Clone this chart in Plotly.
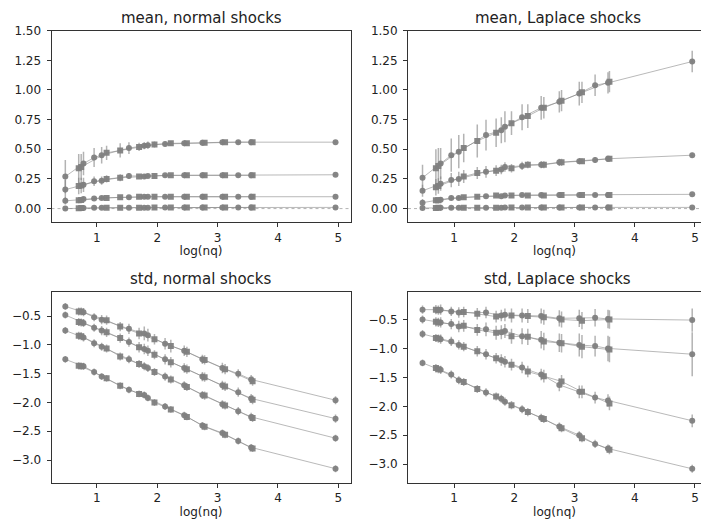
import plotly.graph_objects as go

# log(nq) grid shared by every panel; KIND tells which run each point belongs to
X = [0.477, 0.699, 0.740, 0.778, 0.954, 1.079, 1.161, 1.386, 1.531, 1.699, 1.785,
     1.845, 1.954, 2.130, 2.225, 2.447, 2.491, 2.748, 2.785, 3.079, 3.124, 3.342,
     3.556, 3.580, 4.954]
KIND = ["o", "s", "s", "o", "o", "o", "s", "s", "o", "s", "o", "o", "s", "o", "s",
        "o", "s", "o", "s", "o", "s", "o", "o", "s", "o"]

# mean, normal shocks
MEAN_NORMAL = [
    [0.27, 0.34, 0.35, 0.38, 0.43, 0.45, 0.47, 0.49, 0.51, 0.52, 0.53, 0.535, 0.54,
     0.545, 0.55, 0.55, 0.55, 0.555, 0.555, 0.56, 0.56, 0.56, 0.56, 0.56, 0.56],
    [0.16, 0.19, 0.195, 0.20, 0.23, 0.235, 0.25, 0.26, 0.275, 0.27, 0.27, 0.275, 0.275,
     0.28, 0.28, 0.28, 0.28, 0.28, 0.28, 0.28, 0.28, 0.28, 0.28, 0.28, 0.285],
    [0.065, 0.07, 0.072, 0.08, 0.085, 0.09, 0.09, 0.095, 0.095, 0.10, 0.10, 0.10, 0.10,
     0.10, 0.10, 0.10, 0.10, 0.10, 0.10, 0.10, 0.10, 0.10, 0.10, 0.10, 0.10],
    [0.0, 0.003, 0.004, 0.005, 0.006, 0.006, 0.007, 0.007, 0.008, 0.008, 0.008, 0.008,
     0.009, 0.009, 0.009, 0.009, 0.009, 0.009, 0.009, 0.01, 0.01, 0.01, 0.01, 0.01, 0.01],
]
MEAN_NORMAL_ERR = [
    [0.14, 0.12, 0.11, 0.10, 0.08, 0.07, 0.06, 0.06, 0.05, 0.035, 0.03, 0.03, 0.025,
     0.02, 0.02, 0.018, 0.018, 0.015, 0.015, 0.013, 0.013, 0.012, 0.012, 0.012, 0.01],
    [0.08, 0.07, 0.065, 0.06, 0.04, 0.035, 0.03, 0.03, 0.025, 0.02, 0.018, 0.016, 0.015,
     0.012, 0.012, 0.01, 0.01, 0.01, 0.01, 0.008, 0.008, 0.008, 0.008, 0.008, 0.006],
    [0.03, 0.025, 0.025, 0.02, 0.015, 0.013, 0.012, 0.01, 0.01, 0.009, 0.008, 0.008,
     0.007, 0.006, 0.006, 0.005, 0.005, 0.005, 0.005, 0.004, 0.004, 0.004, 0.004, 0.004, 0.003],
    [0.012, 0.01, 0.01, 0.009, 0.008, 0.007, 0.007, 0.006, 0.006, 0.005, 0.005, 0.005,
     0.004, 0.004, 0.004, 0.004, 0.004, 0.003, 0.003, 0.003, 0.003, 0.003, 0.003, 0.003, 0.002],
]

# mean, Laplace shocks
MEAN_LAPLACE = [
    [0.26, 0.34, 0.36, 0.38, 0.45, 0.48, 0.51, 0.57, 0.62, 0.64, 0.66, 0.69, 0.72,
     0.77, 0.78, 0.85, 0.85, 0.90, 0.91, 0.97, 0.98, 1.04, 1.06, 1.07, 1.24],
    [0.15, 0.18, 0.19, 0.21, 0.24, 0.25, 0.27, 0.30, 0.31, 0.32, 0.33, 0.35, 0.34,
     0.36, 0.37, 0.37, 0.37, 0.39, 0.39, 0.40, 0.40, 0.41, 0.42, 0.42, 0.45],
    [0.05, 0.07, 0.07, 0.075, 0.09, 0.09, 0.095, 0.10, 0.105, 0.11, 0.105, 0.11, 0.11,
     0.115, 0.11, 0.115, 0.11, 0.115, 0.115, 0.115, 0.115, 0.115, 0.115, 0.115, 0.12],
    [0.005, 0.005, 0.006, 0.006, 0.007, 0.007, 0.007, 0.008, 0.008, 0.008, 0.008, 0.009,
     0.009, 0.009, 0.009, 0.009, 0.009, 0.01, 0.01, 0.01, 0.01, 0.01, 0.01, 0.01, 0.01],
]
MEAN_LAPLACE_ERR = [
    [0.11, 0.16, 0.15, 0.13, 0.14, 0.14, 0.12, 0.14, 0.13, 0.12, 0.11, 0.13, 0.10,
     0.11, 0.10, 0.10, 0.09, 0.09, 0.09, 0.10, 0.09, 0.09, 0.09, 0.09, 0.09],
    [0.05, 0.07, 0.065, 0.06, 0.06, 0.06, 0.055, 0.05, 0.05, 0.045, 0.04, 0.04, 0.035,
     0.035, 0.03, 0.03, 0.03, 0.03, 0.03, 0.025, 0.025, 0.025, 0.025, 0.025, 0.02],
    [0.03, 0.025, 0.025, 0.02, 0.02, 0.018, 0.015, 0.015, 0.012, 0.012, 0.01, 0.01, 0.01,
     0.009, 0.009, 0.008, 0.008, 0.007, 0.007, 0.007, 0.007, 0.006, 0.006, 0.006, 0.005],
    [0.012, 0.01, 0.01, 0.009, 0.008, 0.007, 0.007, 0.006, 0.006, 0.005, 0.005, 0.005,
     0.004, 0.004, 0.004, 0.004, 0.004, 0.003, 0.003, 0.003, 0.003, 0.003, 0.003, 0.003, 0.002],
]

# std (log), normal shocks
STD_NORMAL = [
    [-0.33, -0.42, -0.42, -0.43, -0.52, -0.56, -0.57, -0.68, -0.72, -0.80, -0.80, -0.83,
     -0.90, -0.98, -1.02, -1.10, -1.12, -1.25, -1.26, -1.40, -1.42, -1.50, -1.60, -1.63, -1.96],
    [-0.48, -0.60, -0.61, -0.62, -0.70, -0.75, -0.78, -0.88, -0.95, -1.04, -1.07, -1.10,
     -1.17, -1.25, -1.30, -1.40, -1.42, -1.55, -1.56, -1.70, -1.72, -1.82, -1.93, -1.95, -2.28],
    [-0.75, -0.84, -0.85, -0.87, -0.97, -1.03, -1.06, -1.20, -1.25, -1.33, -1.37, -1.40,
     -1.47, -1.55, -1.60, -1.70, -1.73, -1.87, -1.88, -2.03, -2.05, -2.15, -2.25, -2.27, -2.62],
    [-1.25, -1.36, -1.37, -1.37, -1.47, -1.55, -1.58, -1.71, -1.78, -1.85, -1.87, -1.92,
     -2.00, -2.07, -2.12, -2.22, -2.25, -2.40, -2.42, -2.53, -2.56, -2.67, -2.78, -2.80, -3.15],
]
STD_NORMAL_ERR = [
    [0.06, 0.07, 0.07, 0.07, 0.07, 0.08, 0.08, 0.08, 0.09, 0.10, 0.12, 0.11, 0.09,
     0.10, 0.11, 0.09, 0.09, 0.08, 0.08, 0.09, 0.09, 0.08, 0.08, 0.08, 0.07],
    [0.06, 0.07, 0.07, 0.07, 0.07, 0.08, 0.08, 0.08, 0.08, 0.09, 0.09, 0.09, 0.08,
     0.09, 0.09, 0.08, 0.08, 0.08, 0.08, 0.08, 0.08, 0.08, 0.08, 0.08, 0.07],
    [0.06, 0.07, 0.07, 0.07, 0.07, 0.07, 0.07, 0.07, 0.07, 0.07, 0.07, 0.07, 0.07,
     0.07, 0.07, 0.07, 0.07, 0.07, 0.07, 0.07, 0.07, 0.07, 0.07, 0.07, 0.06],
    [0.06, 0.06, 0.06, 0.06, 0.06, 0.06, 0.06, 0.06, 0.06, 0.06, 0.06, 0.06, 0.06,
     0.06, 0.06, 0.06, 0.06, 0.06, 0.06, 0.06, 0.06, 0.06, 0.06, 0.06, 0.06],
]

# std (log), Laplace shocks
STD_LAPLACE = [
    [-0.33, -0.33, -0.34, -0.33, -0.36, -0.38, -0.37, -0.40, -0.38, -0.45, -0.43, -0.42,
     -0.43, -0.43, -0.44, -0.44, -0.46, -0.48, -0.50, -0.48, -0.52, -0.47, -0.49, -0.50, -0.51],
    [-0.50, -0.54, -0.55, -0.55, -0.58, -0.62, -0.61, -0.68, -0.67, -0.73, -0.72, -0.70,
     -0.79, -0.79, -0.80, -0.85, -0.88, -0.90, -0.91, -0.94, -0.97, -0.96, -1.00, -1.02, -1.10],
    [-0.75, -0.82, -0.83, -0.84, -0.88, -0.94, -0.97, -1.05, -1.10, -1.17, -1.20, -1.23,
     -1.28, -1.33, -1.40, -1.45, -1.48, -1.63, -1.57, -1.75, -1.75, -1.85, -1.90, -1.95, -2.25],
    [-1.25, -1.34, -1.36, -1.37, -1.45, -1.55, -1.58, -1.70, -1.76, -1.83, -1.87, -1.92,
     -1.98, -2.05, -2.10, -2.20, -2.22, -2.35, -2.38, -2.50, -2.55, -2.65, -2.73, -2.75, -3.08],
]
STD_LAPLACE_ERR = [
    [0.07, 0.08, 0.08, 0.09, 0.08, 0.09, 0.09, 0.10, 0.10, 0.10, 0.10, 0.11, 0.12,
     0.12, 0.12, 0.13, 0.13, 0.14, 0.14, 0.15, 0.15, 0.15, 0.16, 0.16, 0.20],
    [0.07, 0.08, 0.08, 0.09, 0.09, 0.10, 0.10, 0.10, 0.12, 0.12, 0.12, 0.12, 0.13,
     0.14, 0.14, 0.15, 0.15, 0.16, 0.16, 0.20, 0.20, 0.18, 0.22, 0.22, 0.38],
    [0.07, 0.07, 0.07, 0.08, 0.08, 0.08, 0.08, 0.09, 0.09, 0.09, 0.10, 0.10, 0.10,
     0.10, 0.10, 0.10, 0.11, 0.11, 0.11, 0.11, 0.11, 0.10, 0.11, 0.12, 0.11],
    [0.06, 0.07, 0.07, 0.07, 0.07, 0.07, 0.07, 0.07, 0.07, 0.07, 0.07, 0.07, 0.07,
     0.07, 0.07, 0.07, 0.07, 0.07, 0.07, 0.07, 0.07, 0.07, 0.07, 0.08, 0.07],
]

TITLES = ["mean, normal shocks", "mean, Laplace shocks",
          "std, normal shocks", "std, Laplace shocks"]
XLABEL = "log(nq)"

W, H = 701, 527
FONT = "DejaVu Sans"
MARKER_COLOR = "rgba(128,128,128,0.95)"
LINE_COLOR = "rgba(128,128,128,0.55)"
ERR_COLOR = "rgba(128,128,128,0.6)"
AX_W = 299  # full axes width in px (right column runs past the page edge)

# panel geometry in pixels: left, right, top, bottom
PANELS = [
    dict(px=(51.5, 350.5), py=(24, 218), xr=[0.248, 5.202], yr=[-0.114, 1.5],
         data=MEAN_NORMAL, err=MEAN_NORMAL_ERR, dtick=0.25, fmt=".2f", zero=True),
    dict(px=(408, 701), py=(24, 218), xr=[0.236, 5.10], yr=[-0.114, 1.5],
         data=MEAN_LAPLACE, err=MEAN_LAPLACE_ERR, dtick=0.25, fmt=".2f", zero=True),
    dict(px=(51.5, 350.5), py=(289.3, 482.5), xr=[0.248, 5.202], yr=[-3.40, -0.088],
         data=STD_NORMAL, err=STD_NORMAL_ERR, dtick=0.5, fmt=".1f", zero=False),
    dict(px=(408, 701), py=(289.3, 482.5), xr=[0.236, 5.10], yr=[-3.327, -0.033],
         data=STD_LAPLACE, err=STD_LAPLACE_ERR, dtick=0.5, fmt=".1f", zero=False),
]

fig = go.Figure()
layout = dict(
    width=W, height=H, margin=dict(l=0, r=0, t=0, b=0),
    paper_bgcolor="white", plot_bgcolor="white", showlegend=False,
    font=dict(family=FONT, size=12, color="#222222"),
    annotations=[], shapes=[],
)

for i, p in enumerate(PANELS):
    n = i + 1
    xa = "x" if n == 1 else f"x{n}"
    ya = "y" if n == 1 else f"y{n}"
    xdom = [p["px"][0] / W, p["px"][1] / W]
    ydom = [1 - p["py"][1] / H, 1 - p["py"][0] / H]
    right_col = (n % 2 == 0)

    axis_common = dict(
        showline=True, linecolor="#333333", linewidth=1,
        ticks="outside", ticklen=4, tickwidth=1, tickcolor="#333333",
        showgrid=False, zeroline=False,
        tickfont=dict(family=FONT, size=12, color="#222222"),
    )
    layout["xaxis" if n == 1 else f"xaxis{n}"] = dict(
        axis_common, mirror=True, domain=xdom, anchor=ya, range=p["xr"],
        tickmode="linear", tick0=1, dtick=1,
        title=dict(text=XLABEL, standoff=3, font=dict(family=FONT, size=12)),
    )
    layout["yaxis" if n == 1 else f"yaxis{n}"] = dict(
        axis_common, mirror=not right_col, domain=ydom, anchor=xa, range=p["yr"],
        tickmode="linear", tick0=0, dtick=p["dtick"], tickformat=p["fmt"],
        ticklabelstandoff=3,
    )

    if p["zero"]:
        layout["shapes"].append(dict(
            type="line", xref=f"{xa} domain", yref=ya, x0=0, x1=1, y0=0, y1=0,
            line=dict(color="rgba(160,160,160,0.8)", width=1, dash="dot"),
            layer="below",
        ))

    layout["annotations"].append(dict(
        text=TITLES[i], xref="paper", yref="paper",
        x=(p["px"][0] + AX_W / 2) / W,
        y=ydom[1], xanchor="center", yanchor="bottom", yshift=2, showarrow=False,
        font=dict(family=FONT, size=15, color="#222222"),
    ))

    for ys, es in zip(p["data"], p["err"]):
        for kind, sym, size in (("o", "circle", 6), ("s", "square", 6)):
            idx = [j for j, k in enumerate(KIND) if k == kind]
            fig.add_trace(go.Scatter(
                x=[X[j] for j in idx], y=[ys[j] for j in idx],
                xaxis=xa, yaxis=ya, mode="lines+markers",
                line=dict(color=LINE_COLOR, width=1),
                marker=dict(symbol=sym, size=size, color=MARKER_COLOR,
                            line=dict(width=0)),
                error_y=dict(type="data", array=[es[j] for j in idx], visible=True,
                             color=ERR_COLOR, thickness=1.5, width=0),
                hoverinfo="skip",
            ))

fig.update_layout(**layout)
fig.write_html("out.html")
